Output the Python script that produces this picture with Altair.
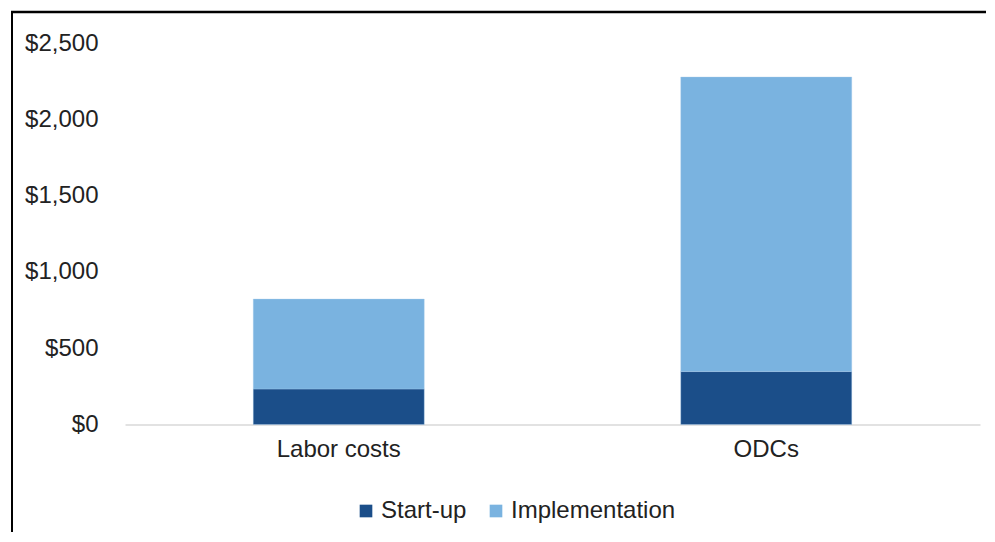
import altair as alt
import pandas as pd

categories = ["Labor costs", "ODCs"]
series = ["Start-up", "Implementation"]
startup = [233, 347]
implementation = [589, 1930]
y_ticks = [0, 500, 1000, 1500, 2000, 2500]
colors = ["#1B4E89", "#7AB3E0"]

rows = []
for i, c in enumerate(categories):
    rows.append({"category": c, "series": series[0], "value": startup[i], "order": 0})
    rows.append({"category": c, "series": series[1], "value": implementation[i], "order": 1})
df = pd.DataFrame(rows)

FONT = "Liberation Sans"

bars = alt.Chart(df).mark_bar(stroke="#A9CDEB", strokeWidth=0.6, strokeOpacity=0.6).encode(
    x=alt.X("category:N", sort=categories,
            scale=alt.Scale(paddingInner=0.6, paddingOuter=0.3),
            axis=alt.Axis(title=None, labelAngle=0, ticks=False, domain=True,
                          domainColor="#D9D9D9", domainWidth=1.5,
                          labelFontSize=24, labelFont=FONT, labelColor="#222222",
                          labelPadding=13)),
    y=alt.Y("value:Q", stack="zero",
            scale=alt.Scale(domain=[0, 2500], nice=False),
            axis=alt.Axis(title=None, values=y_ticks, format="$,.0f", grid=False,
                          ticks=False, domain=False, labelFontSize=24, labelFont=FONT,
                          labelColor="#222222", labelPadding=27)),
    color=alt.Color("series:N", sort=series,
                    scale=alt.Scale(domain=series, range=colors),
                    legend=alt.Legend(title=None, orient="none", direction="horizontal",
                                      legendX=229, legendY=456, symbolType="square",
                                      symbolSize=160, symbolStrokeWidth=0,
                                      labelFontSize=24, labelFont=FONT, labelColor="#222222",
                                      labelLimit=400,
                                      labelOffset=3, columnPadding=17, padding=0)),
    order=alt.Order("order:Q"),
)

border_df = pd.DataFrame({"k": [0]})
top_line = alt.Chart(border_df).mark_rule(color="black", strokeWidth=2.5).encode(
    x=alt.value(-114), x2=alt.value(870), y=alt.value(-31)
)
left_line = alt.Chart(border_df).mark_rule(color="black", strokeWidth=2).encode(
    x=alt.value(-113), y=alt.value(-32), y2=alt.value(510)
)

chart = alt.layer(bars, top_line, left_line).properties(
    width=855, height=381.5,
    autosize=alt.AutoSizeParams(type="none"),
    padding={"left": 117, "top": 35, "right": 6, "bottom": 107},
).configure_view(stroke=None)

chart.save("out.html", embed_options={"renderer": "svg", "actions": False})
